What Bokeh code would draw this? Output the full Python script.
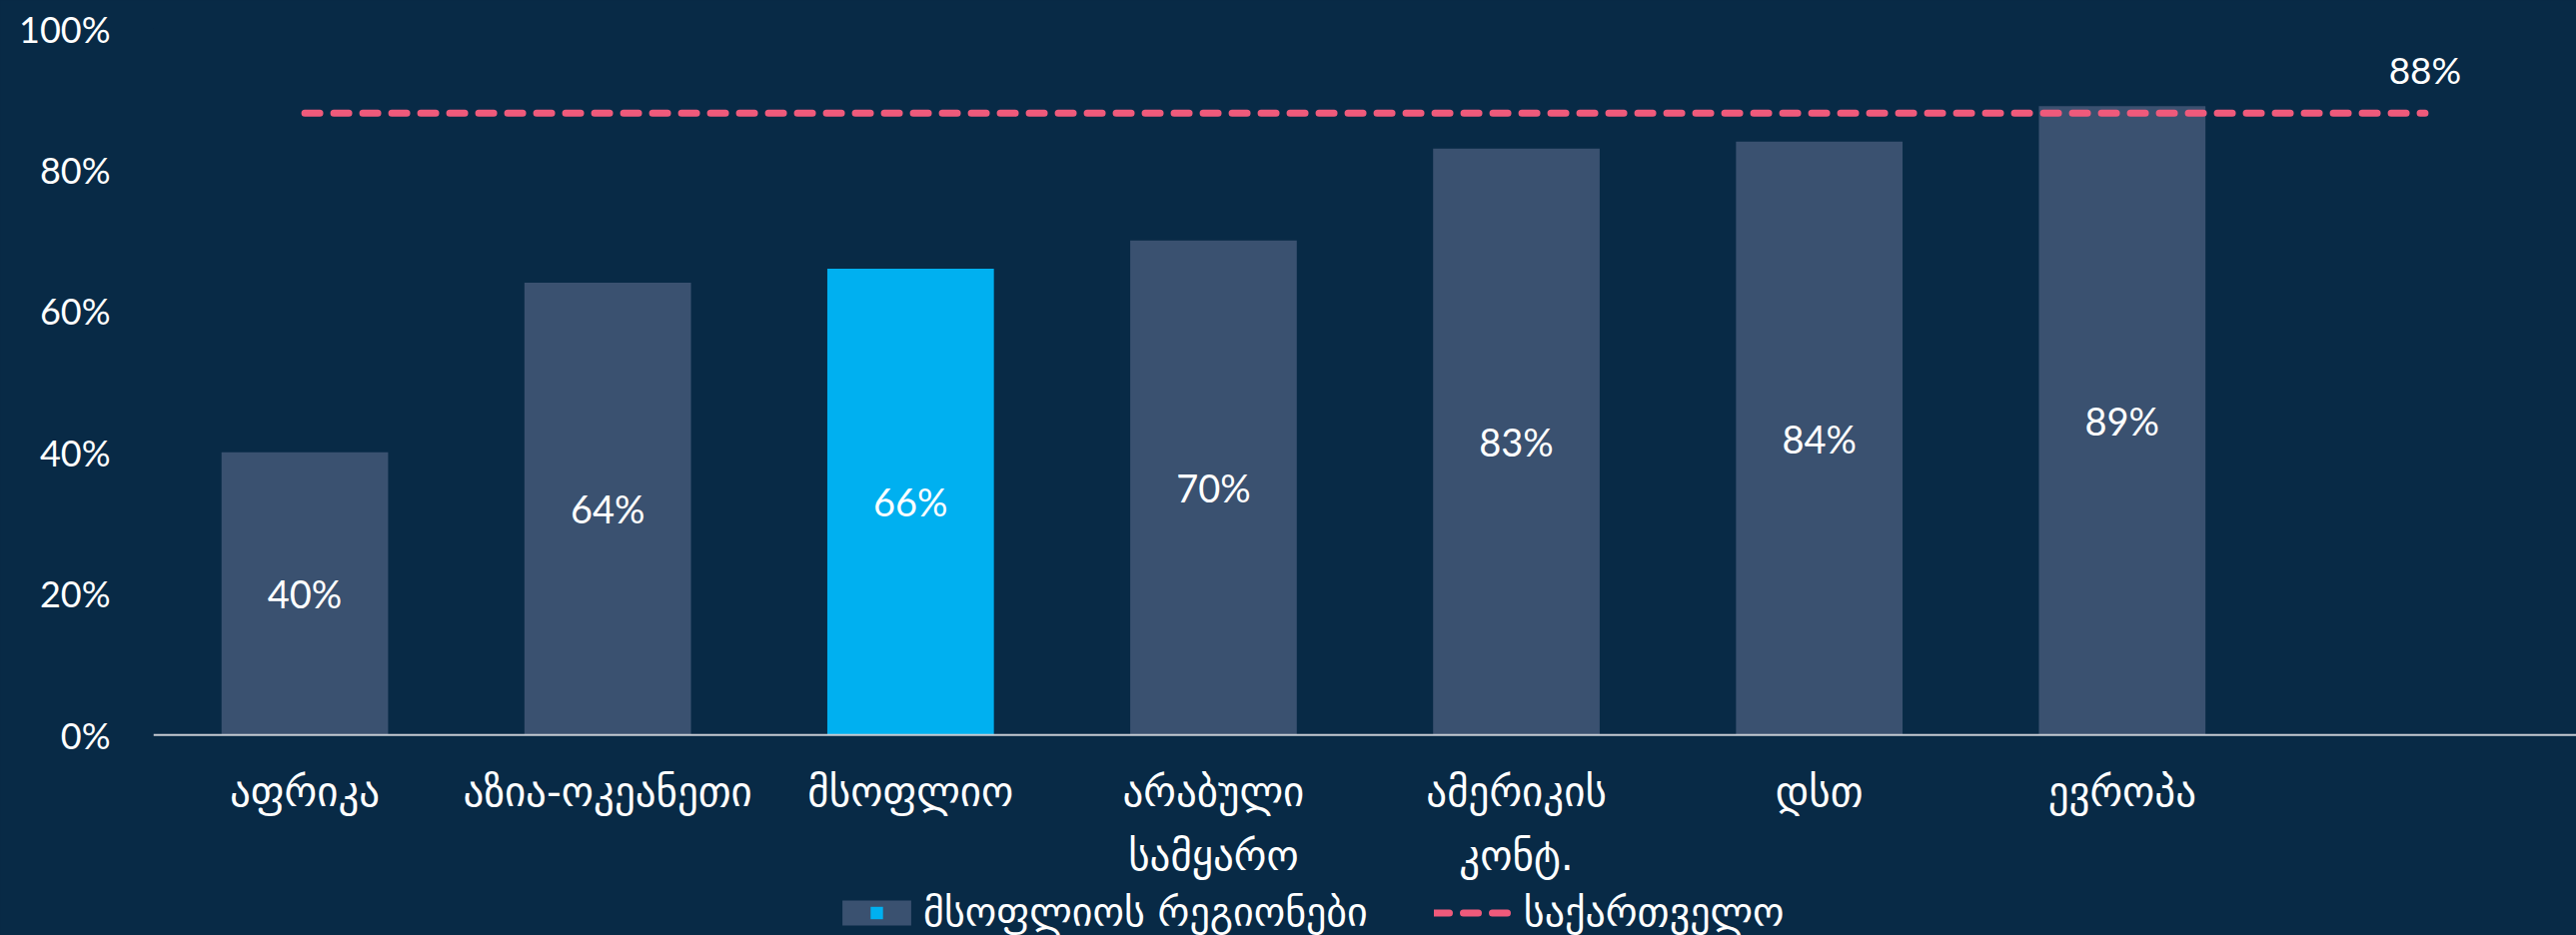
from bokeh.plotting import figure
from bokeh.models import (Range1d, FixedTicker, ColumnDataSource, Legend, LegendItem,
                          PrintfTickFormatter, Span)
from bokeh.embed import file_html
from bokeh.resources import INLINE
from bokeh.core.properties import value

# ---- data ----
categories = ["აფრიკა", "აზია-ოკეანეთი", "მსოფლიო", "არაბული\nსამყარო",
              "ამერიკის\nკონტ.", "დსთ", "ევროპა"]
values = [40, 64, 66, 70, 83, 84, 89]
highlight = "მსოფლიო"
regions_label = "მსოფლიოს რეგიონები"
georgia_label = "საქართველო"
georgia_value = 88
y_ticks = [0, 20, 40, 60, 80, 100]

# ---- style ----
BG = "#082a46"
BAR = "#3a5170"
CYAN = "#00b0f0"
PINK = "#ef5a7b"
AXIS = "#c5cbd3"
FONT_NUM = "Lato"
FONT_KA = "DejaVu Sans"

xs = list(range(len(categories)))
colors = [CYAN if c == highlight else BAR for c in categories]
src = ColumnDataSource(dict(
    x=xs, top=values, color=colors,
    mid=[v / 2 for v in values],
    lab=[f"{v}%" for v in values],
    base=[0] * len(categories),
    cat=categories,
))

# the frame reaches down to the bottom so that category labels and legend live inside it
p = figure(width=2578, height=936,
           x_range=Range1d(-0.5, len(categories) + 0.5), y_range=Range1d(-28.4, 100),
           x_axis_location=None,
           output_backend="svg", toolbar_location=None,
           min_border_left=153, min_border_right=0, min_border_top=28, min_border_bottom=0,
           background_fill_color=BG, border_fill_color=BG, outline_line_color=None)
p.grid.visible = False

bars = p.vbar(x="x", top="top", bottom=0, width=0.55, fill_color="color",
              line_color=None, source=src)
p.text(x="x", y="mid", text="lab", text_color="white", text_font=value(FONT_NUM),
       text_font_size="38px", text_align="center", text_baseline="middle", source=src)

# baseline (category axis line) and category labels
p.add_layout(Span(location=0, dimension="width", line_color=AXIS, line_width=2))
p.text(x="x", y="base", text="cat", y_offset=33, text_color="white",
       text_font=value(FONT_KA), text_font_size="41px", text_align="center",
       text_baseline="top", text_line_height=1.35, source=src)

gx = [0, len(categories)]
gline = p.line(x=gx, y=[georgia_value] * 2, line_color=PINK, line_width=7,
               line_dash="15 14", line_cap="round")
p.text(x=[len(categories)], y=[georgia_value], text=[f"{georgia_value}%"],
       y_offset=-44, text_color="white", text_font=value(FONT_NUM),
       text_font_size="37px", text_align="center", text_baseline="middle")

# legend helper: cyan stripe inside the regions swatch (not drawn in the plot)
stripe = p.scatter(x=[0], y=[0], marker="square", size=10, fill_color=CYAN,
                   line_color=None, visible=False)

ya = p.yaxis[0]
ya.ticker = FixedTicker(ticks=y_ticks)
ya.formatter = PrintfTickFormatter(format="%d%%")
ya.axis_line_color = None
ya.major_tick_line_color = None
ya.minor_tick_line_color = None
ya.major_tick_out = 0
ya.major_tick_in = 0
ya.major_label_standoff = 43
ya.major_label_text_color = "white"
ya.major_label_text_font = FONT_NUM
ya.major_label_text_font_size = "36px"

legend = Legend(items=[LegendItem(label=regions_label, renderers=[bars, stripe]),
                       LegendItem(label=georgia_label, renderers=[gline])],
                orientation="horizontal", location=(681, 0),
                background_fill_alpha=0, border_line_color=None,
                label_text_color="white", label_text_font=FONT_KA,
                label_text_font_size="40px", glyph_width=86, glyph_height=31,
                spacing=66, label_standoff=4, padding=2, margin=0)
p.add_layout(legend, "center")

html = file_html(p, INLINE)
html = html.replace("<head>",
                    "<head><style>html,body{background:#082a46;margin:0;padding:0;overflow:hidden;}</style>", 1)
open("out.html", "w").write(html)
